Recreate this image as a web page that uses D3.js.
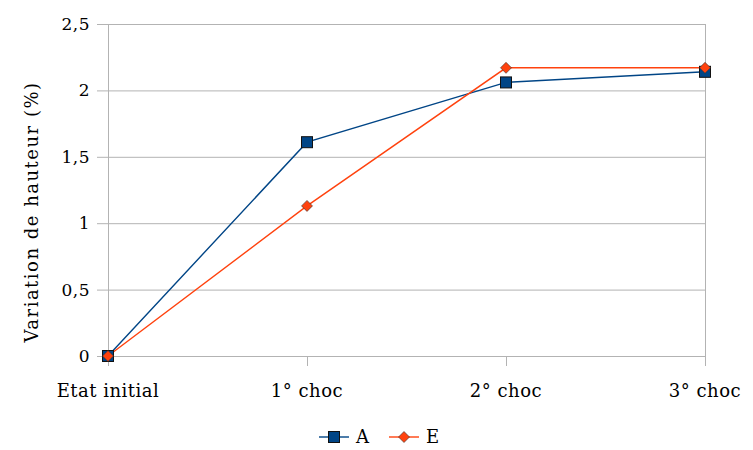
<!DOCTYPE html>
<html><head><meta charset="utf-8">
<script src="https://cdn.jsdelivr.net/npm/d3@7"></script>
<style>body{margin:0;background:#fff;}svg{display:block;}text{font-family:"DejaVu Serif",serif;fill:#000;}</style>
</head><body><div id="chart"></div>
<script>
const categories = ["Etat initial","1° choc","2° choc","3° choc"];
const seriesA = [0, 1.61, 2.06, 2.14];
const seriesE = [0, 1.13, 2.17, 2.17];
const yTicks = [0, 0.5, 1, 1.5, 2, 2.5];
const yTickLabels = ["0","0,5","1","1,5","2","2,5"];

const W = 753, H = 450;
const svg = d3.select("#chart").append("svg").attr("width", W).attr("height", H);
const x = d3.scalePoint().domain(categories).range([108, 705]);
const y = d3.scaleLinear().domain([0, 2.5]).range([356, 24]);
const grid = "#b3b3b3";

svg.append("g").selectAll("line").data(yTicks).join("line")
  .attr("x1", 97).attr("x2", 705)
  .attr("y1", d => y(d) + 0.5).attr("y2", d => y(d) + 0.5)
  .attr("stroke", grid).attr("stroke-width", 1);
svg.append("line").attr("x1", 108.5).attr("x2", 108.5).attr("y1", y(2.5)).attr("y2", 366).attr("stroke", grid);
svg.append("line").attr("x1", 705.5).attr("x2", 705.5).attr("y1", y(2.5)).attr("y2", 366).attr("stroke", grid);
svg.append("g").selectAll("line").data(categories).join("line")
  .attr("x1", d => Math.round(x(d)) + 0.5).attr("x2", d => Math.round(x(d)) + 0.5)
  .attr("y1", y(0)).attr("y2", 366).attr("stroke", grid);

svg.append("g").selectAll("text").data(yTicks).join("text")
  .attr("x", 90).attr("y", d => y(d) + 6)
  .attr("text-anchor", "end").attr("font-size", 17).attr("letter-spacing", 0.5)
  .text((d, i) => yTickLabels[i]);
svg.append("g").selectAll("text").data(categories).join("text")
  .attr("x", d => x(d)).attr("y", 397)
  .attr("text-anchor", "middle").attr("font-size", 18).attr("letter-spacing", 0.5)
  .text(d => d);

svg.append("text").attr("transform", "translate(38,212) rotate(-90)")
  .attr("text-anchor", "middle").attr("font-size", 18).attr("letter-spacing", 1.5)
  .text("Variation de hauteur (%)");

const line = d3.line().x((d, i) => x(categories[i])).y(d => y(d));
const colA = "#004586", colE = "#ff420e";

svg.append("path").datum(seriesA).attr("d", line).attr("fill", "none").attr("stroke", colA).attr("stroke-width", 1.4);
svg.append("path").datum(seriesE).attr("d", line).attr("fill", "none").attr("stroke", colE).attr("stroke-width", 1.4);

function drawSquare(g, cx, cy) {
  g.append("rect").attr("x", cx - 5.5).attr("y", cy - 5.5).attr("width", 11).attr("height", 11)
    .attr("fill", colA).attr("stroke", "#111").attr("stroke-width", 1);
}
function drawDiamond(g, cx, cy) {
  const r = 5.5;
  g.append("path").attr("d", `M0,${-r}L${r},0L0,${r}L${-r},0Z`).attr("transform", `translate(${cx},${cy})`)
    .attr("fill", colE).attr("stroke", "#333").attr("stroke-width", 0.6);
}
const mA = svg.append("g");
seriesA.forEach((v, i) => drawSquare(mA, x(categories[i]), y(v)));
const mE = svg.append("g");
seriesE.forEach((v, i) => drawDiamond(mE, x(categories[i]), y(v)));

const lg = svg.append("g");
lg.append("line").attr("x1", 319).attr("x2", 349).attr("y1", 437).attr("y2", 437).attr("stroke", colA).attr("stroke-width", 1.4);
drawSquare(lg, 334, 437);
lg.append("text").attr("x", 356).attr("y", 443).attr("font-size", 18).text("A");
lg.append("line").attr("x1", 389).attr("x2", 419).attr("y1", 437).attr("y2", 437).attr("stroke", colE).attr("stroke-width", 1.4);
drawDiamond(lg, 404, 437);
lg.append("text").attr("x", 426).attr("y", 443).attr("font-size", 18).text("E");
</script></body></html>
